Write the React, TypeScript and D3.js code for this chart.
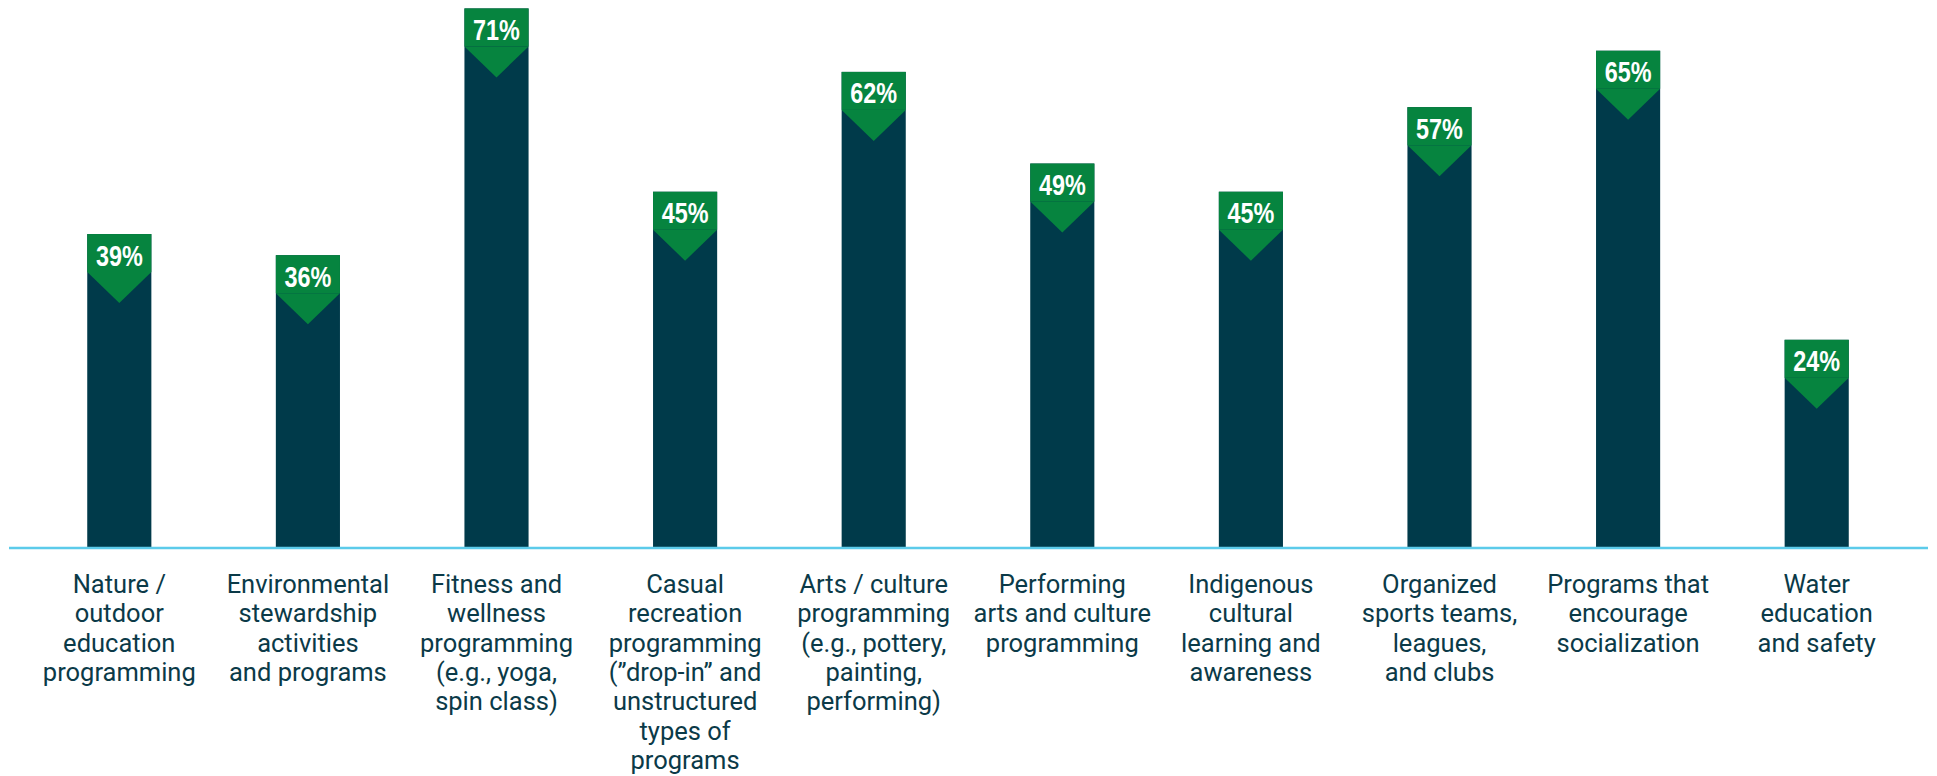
import React from "react";
import * as d3 from "d3";

const categories: string[][] = [
  ["Nature /", "outdoor", "education", "programming"],
  ["Environmental", "stewardship", "activities", "and programs"],
  ["Fitness and", "wellness", "programming", "(e.g., yoga,", "spin class)"],
  ["Casual", "recreation", "programming", "(\u201ddrop-in\u201d and", "unstructured", "types of", "programs"],
  ["Arts / culture", "programming", "(e.g., pottery,", "painting,", "performing)"],
  ["Performing", "arts and culture", "programming"],
  ["Indigenous", "cultural", "learning and", "awareness"],
  ["Organized", "sports teams,", "leagues,", "and clubs"],
  ["Programs that", "encourage", "socialization"],
  ["Water", "education", "and safety"],
];
const values: number[] = [39, 36, 71, 45, 62, 49, 45, 57, 65, 24];

const W = 1937;
const H = 776;
const BASE = 547;
const LABEL_H = 38;
const TRI = 31;
const BAR_DARK = "#003a4a";
const GREEN = "#06843f";
const LINE = "#5ccbea";
const TEXT = "#0b3a48";

export default function App() {
  const x = d3
    .scaleBand<number>()
    .domain(values.map((_, i) => i))
    .range([25, 1911])
    .paddingInner(0.66)
    .paddingOuter(0.33);
  const y = d3.scaleLinear().domain([0, 78]).range([BASE, BASE - 78 * 7.05]);
  const bw = x.bandwidth();

  return (
    <svg
      width={W}
      height={H}
      style={{ position: "fixed", left: 0, top: 0, background: "#fff" }}
    >
      {values.map((v, i) => {
        const x0 = x(i)!;
        const rectBottom = y(v);
        const top = rectBottom - LABEL_H;
        const cx = x0 + bw / 2;
        const tri = d3.path();
        tri.moveTo(x0, rectBottom);
        tri.lineTo(x0 + bw, rectBottom);
        tri.lineTo(cx, rectBottom + TRI);
        tri.closePath();
        return (
          <g key={i}>
            <rect x={x0} y={top} width={bw} height={BASE - top} fill={BAR_DARK} />
            <rect x={x0} y={top} width={bw} height={LABEL_H} fill={GREEN} />
            <path d={tri.toString()} fill={GREEN} />
            <text
              transform={`translate(${cx},${top + 31.5}) scale(0.78,1)`}
              textAnchor="middle"
              fill="#fff"
              fontFamily="'Liberation Sans', Arial, sans-serif"
              fontWeight="bold"
              fontSize={30}
            >
              {v + "%"}
            </text>
          </g>
        );
      })}
      <line x1={9} x2={1928} y1={548} y2={548} stroke={LINE} strokeWidth={2.5} />
      {categories.map((lines, i) => {
        const cx = x(i)! + bw / 2;
        return (
          <text
            key={i}
            textAnchor="middle"
            fill={TEXT}
            fontFamily="Roboto, 'Noto Sans', sans-serif"
            fontSize={25.5}
          >
            {lines.map((t, j) => (
              <tspan key={j} x={cx} y={593 + j * 29.3}>
                {t}
              </tspan>
            ))}
          </text>
        );
      })}
    </svg>
  );
}
